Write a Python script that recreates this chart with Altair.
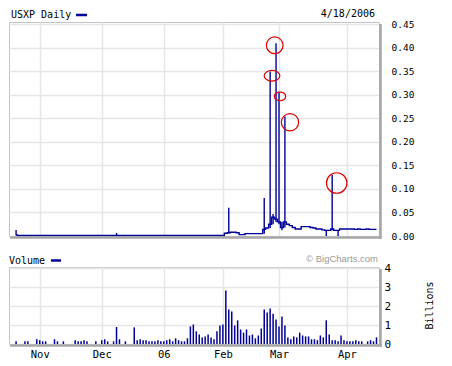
import altair as alt
import pandas as pd

NAVY = "#000099"
MONO = "DejaVu Sans Mono"

# ---------------- data ----------------
first_day = "2005-10-20"
last_day = "2006-04-18"
market_holidays = ["2005-11-24", "2005-12-26", "2006-01-02",
                   "2006-01-16", "2006-02-20", "2006-04-14"]
month_tick_dates = ["2005-11-01", "2005-12-01", "2006-01-03",
                    "2006-02-01", "2006-03-01", "2006-04-03"]
month_tick_labels = ["Nov", "Dec", "06", "Feb", "Mar", "Apr"]

# daily close (USD), one per trading day
close = [
    0.002, 0.001, 0.001, 0.001, 0.001, 0.001, 0.001, 0.001, 0.001, 0.001,
    0.001, 0.001, 0.001, 0.001, 0.001, 0.001, 0.001, 0.001, 0.001, 0.001,
    0.001, 0.001, 0.001, 0.001, 0.001, 0.001, 0.001, 0.001, 0.001, 0.001,
    0.001, 0.001, 0.001, 0.001, 0.001, 0.001, 0.001, 0.001, 0.001, 0.001,
    0.001, 0.001, 0.001, 0.001, 0.001, 0.001, 0.001, 0.001, 0.001, 0.001,
    0.001, 0.001, 0.001, 0.001, 0.001, 0.001, 0.001, 0.001, 0.001, 0.001,
    0.001, 0.001, 0.001, 0.001, 0.001, 0.001, 0.001, 0.001, 0.001, 0.001,
    0.001, 0.006, 0.007, 0.008, 0.008, 0.007, 0.003, 0.003, 0.005, 0.005,
    0.005, 0.005, 0.005, 0.005, 0.014, 0.017, 0.025, 0.040, 0.036, 0.030,
    0.018, 0.030, 0.025, 0.022, 0.018, 0.015, 0.015, 0.020, 0.020, 0.020,
    0.018, 0.017, 0.015, 0.015, 0.013, 0.012, 0.012, 0.015, 0.012, 0.012,
    0.015, 0.015, 0.015, 0.015, 0.015, 0.014, 0.015, 0.014, 0.014, 0.015,
    0.014, 0.014, 0.014,
]

# daily volume (billions of shares)
volume_bn = [
    0.14, 0, 0, 0.14, 0.14, 0, 0, 0.25, 0.2, 0.14,
    0.14, 0, 0, 0.25, 0.14, 0, 0.14, 0, 0, 0,
    0.2, 0.14, 0.14, 0.2, 0.14, 0, 0, 0.14, 0, 0.2,
    0.25, 0.14, 0, 0.14, 0.9, 0.25, 0, 0.14, 0, 0,
    0.88, 0.2, 0.25, 0.2, 0.2, 0.14, 0.14, 0.14, 0.2, 0.14,
    0.14, 0.2, 0.25, 0.14, 0.3, 0.2, 0.14, 0.14, 0.3, 0.93,
    1.03, 0.67, 0.5, 0.35, 0.4, 0.5, 0.35, 0.25, 0.67, 0.98,
    1.03, 2.83, 1.82, 1.72, 0.98, 1.25, 0.77, 0.6, 0.77, 0.45,
    0.5, 0.3, 0.45, 0.82, 1.82, 1.67, 1.88, 1.6, 1.3, 0.93,
    1.45, 0.98, 0.35, 0.25, 0.4, 0.35, 0.6, 0.45, 0.4, 0.4,
    0.25, 0.25, 0.2, 0.45, 0.35, 1.25, 0.5, 0.2, 0.2, 0.14,
    0.45, 0.2, 0.14, 0.14, 0.14, 0.2, 0.14, 0.14, 0, 0.14,
    0.2, 0.14, 0.35,
]

# intraday high/low spikes (trading-day index, low, high)
spike_day = [0, 34, 72, 84, 86, 87, 88, 89, 90, 91, 105, 107, 109]
spike_low = [0.001, 0.001, 0.006, 0.005, 0.017, 0.025, 0.030, 0.025, 0.012, 0.018, 0.0, 0.012, 0.0]
spike_high = [0.013, 0.0064, 0.060, 0.081, 0.350, 0.047, 0.410, 0.307, 0.030, 0.254, 0.013, 0.130, 0.012]

# red annotation circles (trading-day index, price)
circle_day = [87.55, 86.63, 89.34, 92.72, 108.53]
circle_price = [0.4057, 0.341, 0.297, 0.242, 0.1128]

price_ticks = [0.00, 0.05, 0.10, 0.15, 0.20, 0.25, 0.30, 0.35, 0.40, 0.45]
volume_ticks = [0, 1, 2, 3, 4]

# ---------------- frames ----------------
days = pd.bdate_range(first_day, last_day, freq="C", holidays=market_holidays)
n = min(len(days), len(close), len(volume_bn))
idx_of = {d.strftime("%Y-%m-%d"): i for i, d in enumerate(days)}
tick_idx = [idx_of[d] for d in month_tick_dates]
label_expr = "{" + ",".join(f"'{i}':'{l}'" for i, l in zip(tick_idx, month_tick_labels)) + "}[datum.value]"

price_df = pd.DataFrame({"idx": list(range(n)), "close": close[:n]})
vol_df = pd.DataFrame({"idx": list(range(n)), "vol": volume_bn[:n]})
spike_df = pd.DataFrame({"idx": spike_day, "low": spike_low, "high": spike_high})

ELL1 = "M-1,0A1,0.68,0,1,1,1,0A1,0.68,0,1,1,-1,0Z"
ELL2 = "M-1,0A1,0.77,0,1,1,1,0A1,0.77,0,1,1,-1,0Z"
circ_df = pd.DataFrame({
    "idx": circle_day, "price": circle_price,
    "s": [279, 246, 128, 300, 420],
    "shape": ["circle", ELL1, ELL2, "circle", "circle"],
})
one = pd.DataFrame({"k": [0]})

W, H1, H2 = 370, 214, 77
GRID = "#e6e6e6"

x_dom = [-2.4, 122.85]

# ---------------- price panel ----------------
px_axis = alt.Axis(values=tick_idx, labels=False, ticks=False, domain=False,
                   grid=True, gridColor=GRID, gridWidth=1.5, title=None)
py_axis = alt.Axis(orient="right", values=price_ticks, format=".2f", labelFont=MONO,
                   labelFontSize=9.5, labelColor="#000", labelPadding=12, ticks=False,
                   domain=False, grid=True, gridColor=GRID, gridWidth=1.5, title=None,
                   labelFlush=False, labelOverlap=False)
px_scale = alt.Scale(domain=x_dom, nice=False, zero=False)
py_scale = alt.Scale(domain=[0, 0.4553], nice=False)

line = alt.Chart(price_df).mark_line(interpolate="step", color=NAVY, strokeWidth=1.4).encode(
    x=alt.X("idx:Q", scale=px_scale, axis=px_axis),
    y=alt.Y("close:Q", scale=py_scale, axis=py_axis),
)
spikes = alt.Chart(spike_df).mark_rule(color=NAVY, strokeWidth=1.4).encode(
    x=alt.X("idx:Q", scale=px_scale, axis=px_axis),
    y=alt.Y("high:Q", scale=py_scale, axis=py_axis),
    y2="low:Q",
)
circles = alt.Chart(circ_df).mark_point(filled=False, color="#dd0000", strokeWidth=1.2, opacity=1).encode(
    x=alt.X("idx:Q", scale=px_scale, axis=px_axis),
    y=alt.Y("price:Q", scale=py_scale, axis=py_axis),
    size=alt.Size("s:Q", scale=None, legend=None),
    shape=alt.Shape("shape:N", scale=None, legend=None),
)
shadow_r1 = alt.Chart(one).mark_rule(color="#a6a6a6", strokeWidth=2.5).encode(
    x=alt.value(W + 1.5), y=alt.value(2), y2=alt.value(H1 + 2.5))
shadow_b1 = alt.Chart(one).mark_rule(color="#a6a6a6", strokeWidth=2.5).encode(
    x=alt.value(1), x2=alt.value(W + 2.75), y=alt.value(H1 + 1.5))
t_title = alt.Chart(one).mark_text(text="USXP Daily", font=MONO, fontSize=10, align="left",
                                   baseline="middle", color="#000").encode(
    x=alt.value(2), y=alt.value(-7))
t_dash = alt.Chart(one).mark_rule(color=NAVY, strokeWidth=2.5).encode(
    x=alt.value(67), x2=alt.value(78), y=alt.value(-7))
t_date = alt.Chart(one).mark_text(text="4/18/2006", font=MONO, fontSize=10, align="right",
                                  baseline="middle", color="#000").encode(
    x=alt.value(366), y=alt.value(-8))

price = alt.layer(line, spikes, circles, shadow_r1, shadow_b1, t_title, t_dash, t_date).properties(
    width=W, height=H1)

# ---------------- volume panel ----------------
vx_axis = alt.Axis(values=tick_idx, labelExpr=label_expr, labelFont=MONO, labelFontSize=10.5,
                   labelColor="#000", labelPadding=5, ticks=False, domain=False, grid=True,
                   gridColor=GRID, gridWidth=1.5, title=None, labelFlush=False, labelOverlap=False)
vy_axis = alt.Axis(orient="right", values=volume_ticks, format="d", labelFont=MONO,
                   labelFontSize=11, labelColor="#000", labelPadding=5, ticks=False,
                   domain=False, grid=True, gridColor=GRID, gridWidth=1.5, title=None,
                   labelFlush=False, labelOverlap=False)

bars = alt.Chart(vol_df).transform_filter("datum.vol > 0").mark_rule(color=NAVY, strokeWidth=1.5).encode(
    x=alt.X("idx:Q", scale=alt.Scale(domain=x_dom, nice=False, zero=False), axis=vx_axis),
    y=alt.Y("vol:Q", scale=alt.Scale(domain=[0, 4.07], nice=False), axis=vy_axis),
    y2=alt.datum(0),
)
shadow_r2 = alt.Chart(one).mark_rule(color="#a6a6a6", strokeWidth=2.5).encode(
    x=alt.value(W + 1.5), y=alt.value(2), y2=alt.value(H2 + 2.5))
shadow_b2 = alt.Chart(one).mark_rule(color="#a6a6a6", strokeWidth=2.5).encode(
    x=alt.value(1), x2=alt.value(W + 2.75), y=alt.value(H2 + 1.5))
v_title = alt.Chart(one).mark_text(text="Volume", font=MONO, fontSize=10, align="left",
                                   baseline="middle", color="#000").encode(
    x=alt.value(0), y=alt.value(-6.5))
v_dash = alt.Chart(one).mark_rule(color=NAVY, strokeWidth=2.5).encode(
    x=alt.value(42), x2=alt.value(52), y=alt.value(-6.5))
v_credit = alt.Chart(one).mark_text(text="© BigCharts.com", font="Liberation Sans", fontSize=9.5,
                                    align="right", baseline="middle", color="#9a9a9a").encode(
    x=alt.value(369), y=alt.value(-8.5))
v_unit = alt.Chart(one).mark_text(text="Billions", font=MONO, fontSize=10, align="center",
                                  baseline="middle", angle=270, color="#000").encode(
    x=alt.value(W + 51), y=alt.value(H2 / 2))

volume = alt.layer(bars, shadow_r2, shadow_b2, v_title, v_dash, v_credit, v_unit).properties(
    width=W, height=H2)

chart = alt.vconcat(price, volume, spacing=31, bounds="flush").properties(
    padding={"left": 0, "top": 0, "right": 5, "bottom": 5},
    background="white",
).configure_view(stroke="#c4c4c4", strokeWidth=1)

chart.save("out.html", embed_options={"renderer": "svg", "actions": False})
